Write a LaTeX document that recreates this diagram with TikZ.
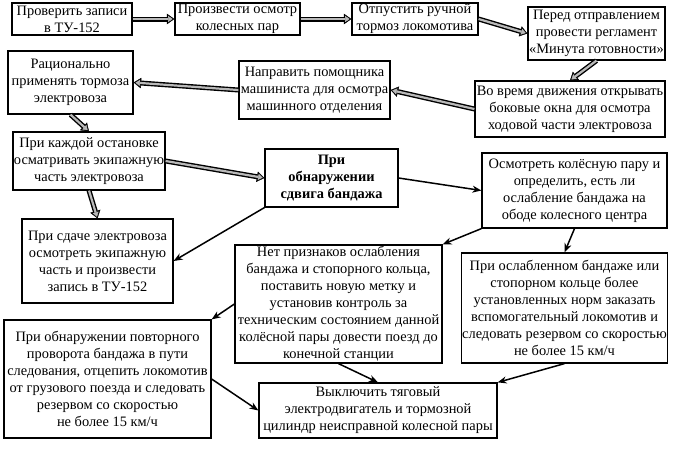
\documentclass[tikz,border=0pt]{standalone}
\usepackage{fontspec}
\setmainfont{Liberation Serif}
\usetikzlibrary{arrows.meta}

\tikzset{
  box/.style={draw, line width=1.2pt, align=center, inner sep=1pt,
    font=\fontsize{14.4}{17}\selectfont},
  thin/.style={line width=1.5pt, -{Stealth[length=9pt, width=7pt]}},
  hollow/.style={line width=5pt, -{Triangle[length=7.5pt, width=10.5pt, line width=0.4pt]},
    postaction={draw=gray!55, line width=2.2pt, shorten >=1.8pt,
      -{Triangle[length=4.5pt, width=6pt, line width=0.4pt]}}}
}

\begin{document}
\begin{tikzpicture}[x=1pt, y=-1pt]
  \useasboundingbox (0,0) rectangle (676,464);

  % top row
  \node[box, minimum width=120pt, minimum height=32pt] (check) at (72,19) {Проверить записи\\в ТУ-152};
  \node[box, minimum width=125pt, minimum height=32pt] (wheels) at (237.5,19) {Произвести осмотр\\колесных пар};
  \node[box, minimum width=126pt, minimum height=32pt] (hand) at (415,19) {Отпустить ручной\\тормоз локомотива};
  \node[box, minimum width=137pt, minimum height=53pt] (minute) at (596.5,33.5) {Перед отправлением\\провести регламент\\«Минута готовности»};

  % second row
  \node[box, minimum width=125pt, minimum height=63pt] (brakes) at (70.5,82.5) {Рационально\\применять тормоза\\электровоза};
  \node[box, minimum width=151pt, minimum height=58pt] (helper) at (314.5,90) {Направить помощника\\машиниста для осмотра\\машинного отделения};
  \node[box, minimum width=190pt, minimum height=56pt] (windows) at (570,109) {Во время движения открывать\\боковые окна для осмотра\\ходовой части электровоза};

  % third row
  \node[box, minimum width=152pt, minimum height=58pt] (stop) at (89,161) {При каждой остановке\\осматривать экипажную\\часть электровоза};
  \node[box, minimum width=133pt, minimum height=58pt, font=\fontsize{14.4}{17}\selectfont\bfseries] (shift) at (331.5,178) {При\\обнаружении\\сдвига бандажа};
  \node[box, minimum width=185pt, minimum height=75pt] (inspect) at (574.5,190.5) {Осмотреть колёсную пару и\\определить, есть ли\\ослабление бандажа на\\ободе колесного центра};

  % lower rows
  \node[box, minimum width=151pt, minimum height=84pt] (handover) at (97.5,261) {При сдаче электровоза\\осмотреть экипажную\\часть и произвести\\запись в ТУ-152};
  \node[box, minimum width=207pt, minimum height=118pt] (nosigns) at (338.5,304) {Нет признаков ослабления\\бандажа и стопорного кольца,\\поставить новую метку и\\установив контроль за\\техническим состоянием данной\\колёсной пары довести поезд до\\конечной станции};
  \node[box, minimum width=205pt, minimum height=110pt] (loose) at (564.5,308) {При ослабленном бандаже или\\стопорном кольце более\\установленных норм заказать\\вспомогательный локомотив и\\следовать резервом со скоростью\\не более 15 км/ч};
  \node[box, minimum width=207pt, minimum height=118pt] (repeat) at (107.5,379) {При обнаружении повторного\\проворота бандажа в пути\\следования, отцепить локомотив\\от грузового поезда и следовать\\резервом со скоростью\\не более 15 км/ч};
  \node[box, minimum width=238pt, minimum height=55pt] (switchoff) at (378,410.5) {Выключить тяговый\\электродвигатель и тормозной\\цилиндр неисправной колесной пары};

  % hollow arrows
  \draw[hollow] (check.east) -- (wheels.west);
  \draw[hollow] (wheels.east) -- (hand.west);
  \draw[hollow] (hand.east) -- (minute.west);
  \draw[hollow] (minute.south) -- (windows.north);
  \draw[hollow] (windows.west) -- (helper.east);
  \draw[hollow] (helper.west) -- (brakes.east);
  \draw[hollow] (brakes.south) -- (stop.north);
  \draw[hollow] (stop.east) -- (shift.west);
  \draw[hollow] (stop.south) -- (handover.north);

  % thin arrows
  \draw[thin] (shift.south west) -- (handover.east);
  \draw[thin] (shift.east) -- (inspect.west);
  \draw[thin] (inspect.south west) -- (nosigns.north east);
  \draw[thin] (inspect.south) -- (loose.north);
  \draw[thin] (nosigns.west) -- (repeat.north east);
  \draw[thin] (nosigns.south) -- (switchoff.north);
  \draw[thin] (loose.south) -- (switchoff.north east);
  \draw[thin] (repeat.east) -- (switchoff.west);
\end{tikzpicture}
\end{document}
